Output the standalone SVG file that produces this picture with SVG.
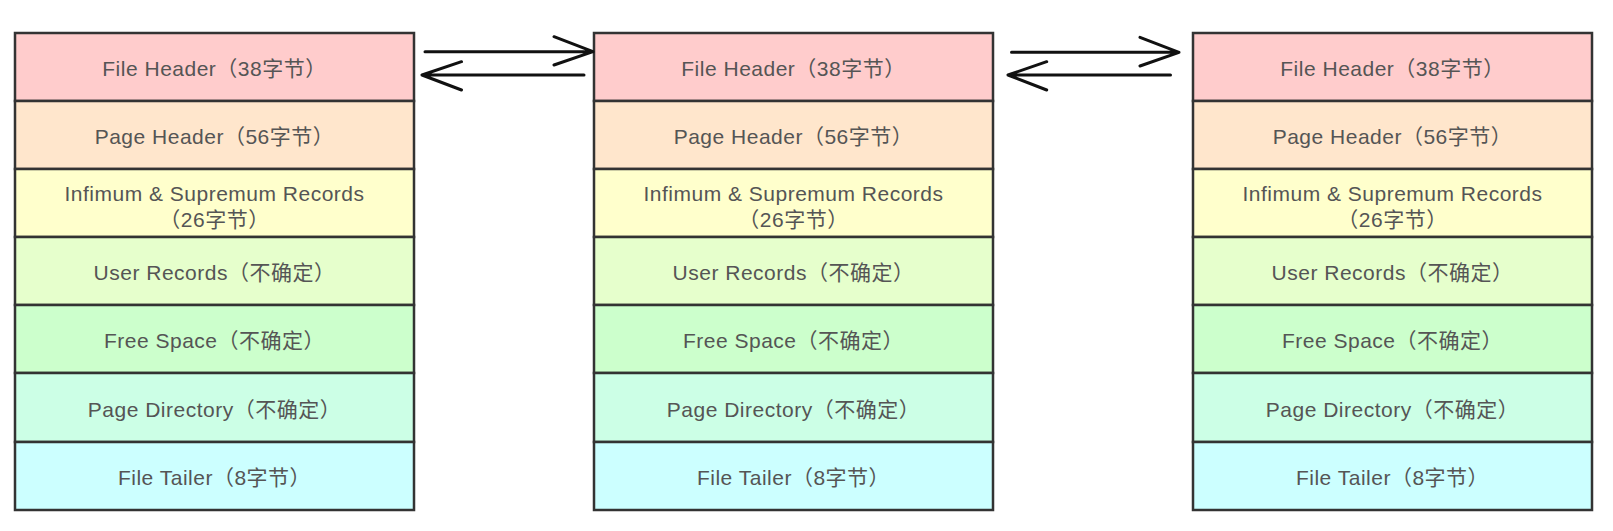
<svg xmlns="http://www.w3.org/2000/svg" width="1613" height="531" viewBox="0 0 1613 531">
<style>
.r{stroke:#333;stroke-width:2.5}
.t{font-family:"Liberation Sans","Noto Sans CJK SC",sans-serif;font-size:21px;letter-spacing:0.5px;fill:#555;text-anchor:middle;dominant-baseline:central}
.c1{fill:#ffcccc}.c2{fill:#ffe6cc}.c3{fill:#ffffcc}.c4{fill:#e6ffcc}.c5{fill:#ccffcc}.c6{fill:#ccffe6}.c7{fill:#ccffff}
.a{fill:none;stroke:#111;stroke-width:3;stroke-linecap:round;stroke-linejoin:round}
</style>
<defs>
<g id="page">
<rect class="r c1" x="0" y="0" width="399" height="68"/>
<rect class="r c2" x="0" y="68" width="399" height="68"/>
<rect class="r c3" x="0" y="136" width="399" height="68"/>
<rect class="r c4" x="0" y="204" width="399" height="68"/>
<rect class="r c5" x="0" y="272" width="399" height="68"/>
<rect class="r c6" x="0" y="340" width="399" height="69"/>
<rect class="r c7" x="0" y="409" width="399" height="68"/>
<text class="t" x="199.5" y="35.5">File Header（38字节）</text>
<text class="t" x="199.5" y="103.5">Page Header（56字节）</text>
<text class="t" x="199.5" y="160">Infimum &amp; Supremum Records</text>
<text class="t" x="199.5" y="186">（26字节）</text>
<text class="t" x="199.5" y="239.5">User Records（不确定）</text>
<text class="t" x="199.5" y="307.5">Free Space（不确定）</text>
<text class="t" x="199.5" y="376">Page Directory（不确定）</text>
<text class="t" x="199.5" y="444">File Tailer（8字节）</text>
</g>
</defs>
<g id="page1"><use href="#page" x="15" y="33"/></g>
<g id="page2"><use href="#page" x="594" y="33"/></g>
<g id="page3"><use href="#page" x="1193" y="33"/></g>
<g id="connectors">
<path class="a" d="M425 51.7 H593 M554 36.7 L593 51.7 L554 65"/>
<path class="a" d="M584 75 H422 M461.5 61.7 L422 75 L461.5 90"/>
<path class="a" d="M1011.5 52.3 H1179 M1140 37.3 L1179 52.3 L1140 66"/>
<path class="a" d="M1170.5 75 H1008 M1046.7 61.7 L1008 75 L1046.7 90"/>
</g>
</svg>
